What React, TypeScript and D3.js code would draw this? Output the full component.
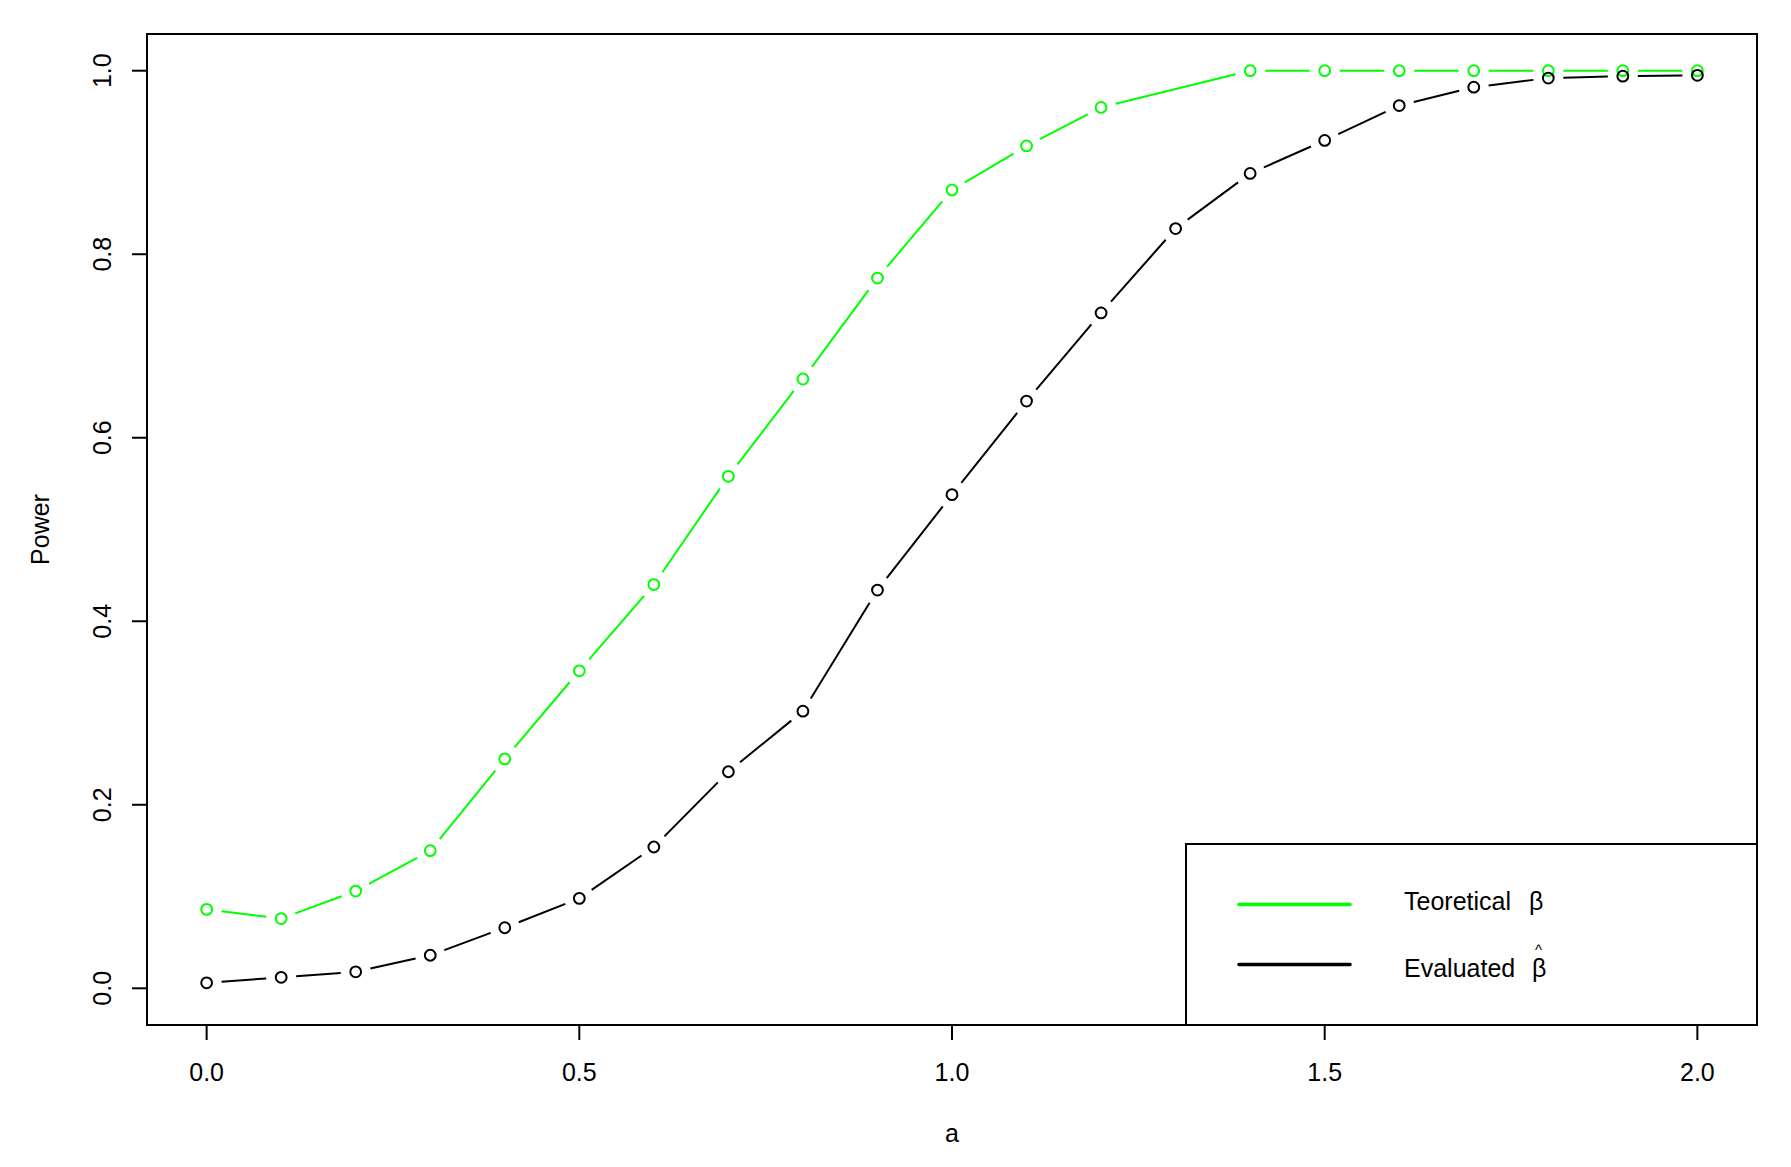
import React, { useEffect, useRef } from 'react';
import * as d3 from 'd3';

// x grid of the simulation (a)
const aValues = [0, 0.1, 0.2, 0.3, 0.4, 0.5, 0.6, 0.7, 0.8, 0.9, 1.0, 1.1, 1.2, 1.3, 1.4, 1.5, 1.6, 1.7, 1.8, 1.9, 2.0];
// theoretical power has no point at a = 1.3
const aTheoretical = [0, 0.1, 0.2, 0.3, 0.4, 0.5, 0.6, 0.7, 0.8, 0.9, 1.0, 1.1, 1.2, 1.4, 1.5, 1.6, 1.7, 1.8, 1.9, 2.0];
const powerTheoretical = [0.086, 0.076, 0.106, 0.150, 0.250, 0.346, 0.440, 0.558, 0.664, 0.774, 0.870, 0.918, 0.960, 1.0, 1.0, 1.0, 1.0, 1.0, 1.0, 1.0];
const powerEvaluated = [0.006, 0.012, 0.018, 0.036, 0.066, 0.098, 0.154, 0.236, 0.302, 0.434, 0.538, 0.640, 0.736, 0.828, 0.888, 0.924, 0.962, 0.982, 0.992, 0.994, 0.995];

const xTicks = [0, 0.5, 1.0, 1.5, 2.0];
const yTicks = [0, 0.2, 0.4, 0.6, 0.8, 1.0];
const legendLabels = ['Teoretical', 'Evaluated'];
const seriesColors = ['#00ff00', '#000000'];

const FONT = '"Liberation Sans", Arial, sans-serif';

export default function App() {
    const svgRef = useRef<SVGSVGElement>(null);

    useEffect(() => {
        if (!svgRef.current) return;
        const width = 1791;
        const height = 1167;
        const box = { left: 147, right: 1757, top: 34, bottom: 1025 };

        const svg = d3.select(svgRef.current);
        svg.selectAll('*').remove();
        svg.append('rect').attr('width', width).attr('height', height).attr('fill', 'white');

        // R style 4% axis extension
        const x = d3.scaleLinear().domain([-0.08, 2.08]).range([box.left, box.right]);
        const y = d3.scaleLinear().domain([-0.04, 1.04]).range([box.bottom, box.top]);

        // type = "b": segments stop short of the circles
        const drawSeries = (xs: number[], ys: number[], color: string) => {
            const pts = xs.map((v, i) => [x(v), y(ys[i])] as [number, number]);
            const gap = 15;
            const g = svg.append('g');
            for (let i = 0; i < pts.length - 1; i++) {
                const [x0, y0] = pts[i];
                const [x1, y1] = pts[i + 1];
                const len = Math.hypot(x1 - x0, y1 - y0);
                if (len <= 2 * gap) continue;
                const ux = (x1 - x0) / len;
                const uy = (y1 - y0) / len;
                g.append('line')
                    .attr('x1', x0 + ux * gap).attr('y1', y0 + uy * gap)
                    .attr('x2', x1 - ux * gap).attr('y2', y1 - uy * gap)
                    .attr('stroke', color)
                    .attr('stroke-width', 2);
            }
            g.selectAll('circle')
                .data(pts)
                .enter()
                .append('circle')
                .attr('cx', d => d[0])
                .attr('cy', d => d[1])
                .attr('r', 5.4)
                .attr('fill', 'none')
                .attr('stroke', color)
                .attr('stroke-width', 2);
        };

        drawSeries(aTheoretical, powerTheoretical, seriesColors[0]);
        drawSeries(aValues, powerEvaluated, seriesColors[1]);

        // Axes (R base style)
        const xAxis = svg.append('g');
        xAxis.append('line')
            .attr('x1', x(xTicks[0])).attr('x2', x(xTicks[xTicks.length - 1]))
            .attr('y1', box.bottom).attr('y2', box.bottom)
            .attr('stroke', 'black').attr('stroke-width', 2);
        xTicks.forEach(t => {
            xAxis.append('line')
                .attr('x1', x(t)).attr('x2', x(t))
                .attr('y1', box.bottom).attr('y2', box.bottom + 15)
                .attr('stroke', 'black').attr('stroke-width', 2);
            xAxis.append('text')
                .attr('x', x(t)).attr('y', 1081)
                .attr('text-anchor', 'middle')
                .attr('font-family', FONT).attr('font-size', '25px')
                .text(d3.format('.1f')(t));
        });

        const yAxis = svg.append('g');
        yTicks.forEach(t => {
            yAxis.append('line')
                .attr('x1', box.left - 15).attr('x2', box.left)
                .attr('y1', y(t)).attr('y2', y(t))
                .attr('stroke', 'black').attr('stroke-width', 2);
            yAxis.append('text')
                .attr('transform', `translate(111,${y(t)}) rotate(-90)`)
                .attr('text-anchor', 'middle')
                .attr('font-family', FONT).attr('font-size', '25px')
                .text(d3.format('.1f')(t));
        });

        // Plot frame
        svg.append('rect')
            .attr('x', box.left).attr('y', box.top)
            .attr('width', box.right - box.left).attr('height', box.bottom - box.top)
            .attr('fill', 'none').attr('stroke', 'black').attr('stroke-width', 2);

        // Axis titles
        svg.append('text')
            .attr('x', (box.left + box.right) / 2).attr('y', 1141.5)
            .attr('text-anchor', 'middle')
            .attr('font-family', FONT).attr('font-size', '25px')
            .text('a');
        svg.append('text')
            .attr('transform', `translate(48.5,${(box.top + box.bottom) / 2}) rotate(-90)`)
            .attr('text-anchor', 'middle')
            .attr('font-family', FONT).attr('font-size', '25px')
            .text('Power');

        // Legend
        const legend = svg.append('g');
        legend.append('rect')
            .attr('x', 1186).attr('y', 844)
            .attr('width', box.right - 1186).attr('height', box.bottom - 844)
            .attr('fill', 'white').attr('stroke', 'black').attr('stroke-width', 2);
        const rowsY = [904.5, 964.5];
        legendLabels.forEach((label, i) => {
            legend.append('line')
                .attr('x1', 1239).attr('x2', 1350)
                .attr('y1', rowsY[i]).attr('y2', rowsY[i])
                .attr('stroke', seriesColors[i]).attr('stroke-width', 3.5)
                .attr('stroke-linecap', 'round');
            legend.append('text')
                .attr('x', 1404).attr('y', rowsY[i] + 5.5 + i * 7)
                .attr('font-family', FONT).attr('font-size', '25px')
                .text(label);
            legend.append('text')
                .attr('x', 1529 + i * 3).attr('y', rowsY[i] + 5.5 + i * 7)
                .attr('font-family', FONT).attr('font-size', '25px')
                .text('β');
        });
        // hat over the estimated beta
        legend.append('text')
            .attr('x', 1538.5).attr('y', 955)
            .attr('text-anchor', 'middle')
            .attr('font-family', FONT).attr('font-size', '15px')
            .text('^');
    }, []);

    return (
        <svg
            ref={svgRef}
            width={1791}
            height={1167}
            style={{ position: 'absolute', left: 0, top: 0 }}
        />
    );
}
